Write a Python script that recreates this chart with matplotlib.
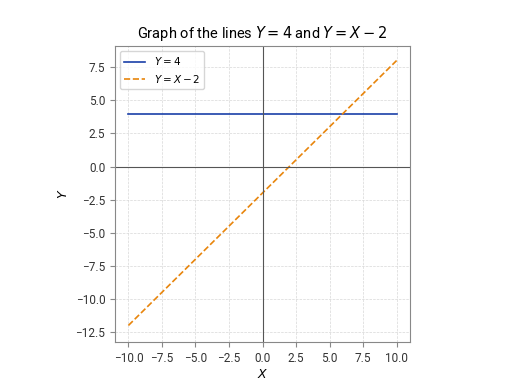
import matplotlib
matplotlib.use("Agg")
import matplotlib.pyplot as plt
import numpy as np

plt.rcParams['font.family'] = ['Roboto', 'DejaVu Sans']
plt.rcParams['mathtext.fontset'] = 'dejavusans'

# data
x_vals = [-10, 10]
y_const = [4, 4]
y_line = [-12, 8]
x_ticks = [-10.0, -7.5, -5.0, -2.5, 0.0, 2.5, 5.0, 7.5, 10.0]

fig = plt.figure(figsize=(5.12, 3.84), dpi=100)
ax = fig.add_axes([115 / 512, 1 - 342 / 384, 295 / 512, 296 / 384])

ax.plot(x_vals, y_const, color='#1a3fa8', linewidth=1.2, label='$Y = 4$')
ax.plot(x_vals, y_line, color='#e8850c', linewidth=1.2, linestyle='--', label='$Y = X - 2$')

ax.axhline(0, color='#555555', linewidth=0.8)
ax.axvline(0, color='#555555', linewidth=0.8)

ax.set_xticks(x_ticks)
ax.set_xlim(-11, 11)
ax.set_ylim(-13.25, 9.1)
ax.grid(True, linestyle='--', linewidth=0.5, color='#d8d8d8')
ax.set_axisbelow(True)

for s in ax.spines.values():
    s.set_color('#888888')
ax.tick_params(colors='#888888', labelcolor='#333333', labelsize=8.5)

ax.set_xlabel('$X$', fontsize=9, labelpad=2)
ax.set_ylabel('$Y$', fontsize=9)
ax.set_title('Graph of the lines $Y = 4$ and $Y = X - 2$', fontsize=10.5)
ax.legend(loc='upper left', fontsize=7.5)

fig.savefig('out.png', dpi=100)
